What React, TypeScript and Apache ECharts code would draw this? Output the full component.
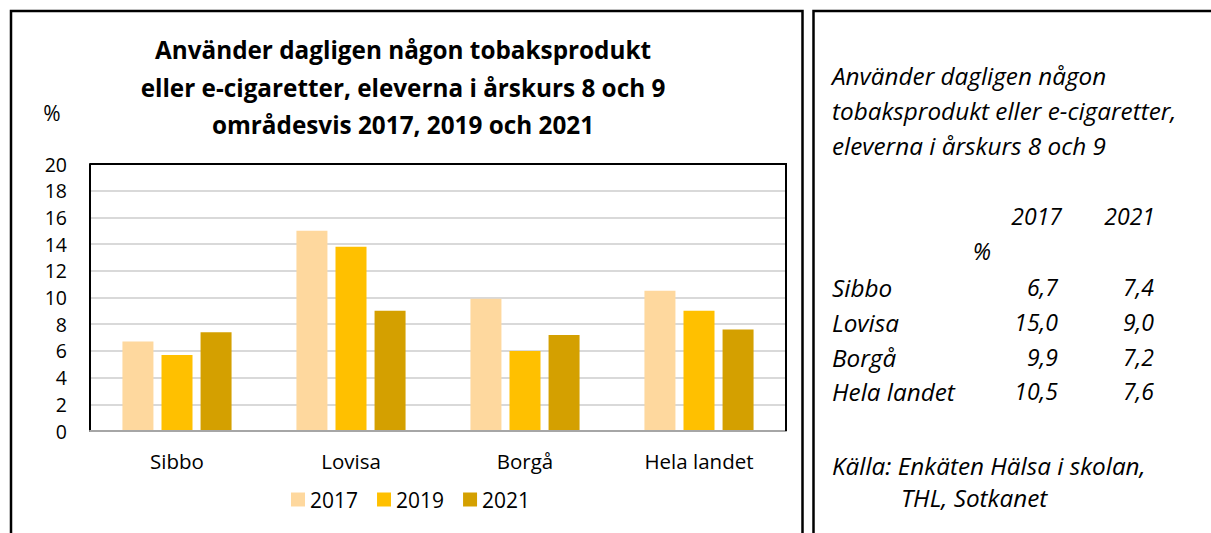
import React, { useEffect, useRef } from "react";
import * as echarts from "echarts";

const categories = ["Sibbo", "Lovisa", "Borgå", "Hela landet"];
const years = ["2017", "2019", "2021"];
const values2017 = [6.7, 15.0, 9.9, 10.5];
const values2019 = [5.7, 13.8, 6.0, 9.0];
const values2021 = [7.4, 9.0, 7.2, 7.6];
const seriesColors = ["#FED89E", "#FFC000", "#D4A000"];
const yTicks = { min: 0, max: 20, interval: 2 };
const titleLines = [
  "Använder dagligen någon tobaksprodukt",
  "eller e-cigaretter, eleverna i årskurs 8 och 9",
  "områdesvis 2017, 2019 och 2021",
];
const sideTitleLines = [
  "Använder dagligen någon",
  "tobaksprodukt eller e-cigaretter,",
  "eleverna i årskurs 8 och 9",
];
const tableYears = ["2017", "2021"];
const sourceLines = ["Källa: Enkäten Hälsa i skolan,", "THL, Sotkanet"];

const FONT = "'Open Sans', 'Noto Sans', sans-serif";

function fmt(v: number) {
  return v.toFixed(1).replace(".", ",");
}

export default function App() {
  const ref = useRef<HTMLDivElement>(null);
  useEffect(() => {
    if (!ref.current) return;
    const chart = echarts.init(ref.current, undefined, { renderer: "svg" });
    const W = 1211;
    const gridLeft = 90;
    const gridRight = 786;
    const gridTop = 164;
    const gridBottom = 431;

    const sideFont = { fontFamily: FONT, fontStyle: "italic", fontSize: 24.3, fill: "#000" };
    const numFont = { fontFamily: FONT, fontStyle: "italic", fontSize: 23, fill: "#000" };
    const rowYs = [287, 322, 357, 391];
    const sideElements: any[] = [];
    sideTitleLines.forEach((t, i) => {
      sideElements.push({
        type: "text",
        x: 832,
        y: 75 + i * 35,
        style: { ...sideFont, text: t, verticalAlign: "middle" },
      });
    });
    const colRight = [1062, 1155];
    tableYears.forEach((t, i) => {
      sideElements.push({
        type: "text",
        x: colRight[i],
        y: 216,
        style: { ...numFont, text: t, align: "right", verticalAlign: "middle" },
      });
    });
    sideElements.push({
      type: "text",
      x: 982,
      y: 251,
      style: { ...numFont, text: "%", align: "center", verticalAlign: "middle" },
    });
    const tableCols = [values2017, values2021];
    categories.forEach((c, r) => {
      sideElements.push({
        type: "text",
        x: 832,
        y: rowYs[r],
        style: { ...sideFont, text: c, verticalAlign: "middle" },
      });
      tableCols.forEach((col, i) => {
        sideElements.push({
          type: "text",
          x: i === 0 ? 1058 : 1154,
          y: rowYs[r],
          style: { ...numFont, text: fmt(col[r]), align: "right", verticalAlign: "middle" },
        });
      });
    });
    sideElements.push({
      type: "text",
      x: 832,
      y: 465,
      style: { ...sideFont, text: sourceLines[0], verticalAlign: "middle" },
    });
    sideElements.push({
      type: "text",
      x: 901,
      y: 497,
      style: { ...sideFont, text: sourceLines[1], verticalAlign: "middle" },
    });

    const seriesData = [values2017, values2019, values2021];

    chart.setOption({
      animation: false,
      backgroundColor: "#fff",
      textStyle: { fontFamily: FONT },
      title: {
        text: titleLines.join("\n"),
        left: 398,
        top: 26,
        textAlign: "center",
        textStyle: {
          fontFamily: FONT,
          fontWeight: "bold",
          fontSize: 24.3,
          lineHeight: 37.5,
          color: "#000",
        },
      },
      legend: {
        left: 286,
        top: 484,
        icon: "rect",
        itemWidth: 14,
        itemHeight: 14,
        itemGap: 19,
        textStyle: { fontFamily: FONT, fontSize: 21, color: "#000" },
        data: years,
      },
      grid: {
        left: gridLeft,
        right: W - gridRight,
        top: gridTop,
        bottom: 533 - gridBottom,
        containLabel: false,
      },
      xAxis: {
        type: "category",
        data: categories,
        axisTick: { show: false },
        axisLine: { show: true, lineStyle: { color: "#A6A6A6", width: 2 } },
        axisLabel: { fontFamily: FONT, fontSize: 20.5, color: "#000", margin: 19 },
        z: 5,
      },
      yAxis: {
        type: "value",
        min: yTicks.min,
        max: yTicks.max,
        interval: yTicks.interval,
        axisLine: { show: true, lineStyle: { color: "#000", width: 2 } },
        axisTick: { show: false },
        axisLabel: { fontFamily: FONT, fontSize: 19.5, color: "#000", margin: 23 },
        splitLine: { lineStyle: { color: "#D9D9D9", width: 2 } },
      },
      series: years.map((y, i) => ({
        name: y,
        type: "bar",
        data: seriesData[i],
        barWidth: 31,
        barGap: "26%",
        itemStyle: { color: seriesColors[i] },
      })),
      graphic: [
        {
          type: "polyline",
          shape: {
            points: [
              [gridLeft, gridTop],
              [gridRight, gridTop],
              [gridRight, gridBottom],
            ],
          },
          style: { stroke: "#000", lineWidth: 2, fill: null },
          z: 10,
        },
        {
          type: "polyline",
          shape: {
            points: [
              [11, 545],
              [11, 11],
              [802.5, 11],
              [802.5, 545],
            ],
          },
          style: { stroke: "#000", lineWidth: 2.5, fill: null },
        },
        {
          type: "polyline",
          shape: {
            points: [
              [813.5, 545],
              [813.5, 11],
              [1220, 11],
            ],
          },
          style: { stroke: "#000", lineWidth: 2.5, fill: null },
        },
        {
          type: "text",
          x: 52,
          y: 113,
          style: {
            text: "%",
            fontFamily: FONT,
            fontSize: 21,
            fill: "#000",
            align: "center",
            verticalAlign: "middle",
          },
        },
        ...sideElements,
      ],
    });
    return () => chart.dispose();
  }, []);
  return (
    <div
      ref={ref}
      style={{ position: "absolute", left: 0, top: 0, width: 1211, height: 533 }}
    />
  );
}
